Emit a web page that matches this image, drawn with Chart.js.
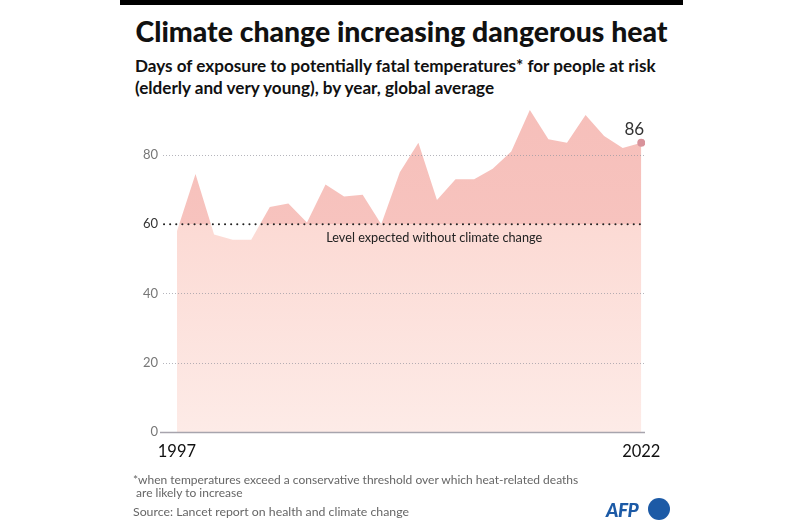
<!DOCTYPE html>
<html>
<head>
<meta charset="utf-8">
<script src="https://cdn.jsdelivr.net/npm/chart.js@4"></script>
<style>
    body { margin: 0; background: #fff; font-family: Lato, "Open Sans", sans-serif; }
    #wrap { position: relative; width: 800px; height: 530px; overflow: hidden; }
    #topbar { position: absolute; left: 120px; top: 0; width: 563px; height: 5px; background: #000; }
    #title { position: absolute; left: 120px; width: 563px; top: 14px; text-align: center; font-size: 28.4px; font-weight: 900; color: #111; white-space: nowrap; }
    #subtitle { position: absolute; left: 135px; top: 55px; font-size: 17.1px; font-weight: 700; color: #111; line-height: 22px; }
    #note { position: absolute; left: 133px; top: 473px; font-size: 12px; color: #666; line-height: 13px; }
    #source { position: absolute; left: 133px; top: 504px; font-size: 12.3px; color: #666; }
    #afp { position: absolute; left: 606px; top: 498px; font-size: 19px; font-weight: 900; font-style: italic; color: #1c5aa6; letter-spacing: -0.5px; }
    #afpdot { position: absolute; left: 648px; top: 498px; width: 22px; height: 22px; border-radius: 50%; background: #1c5aa6; }
    canvas { position: absolute; left: 0; top: 0; }
</style>
</head>
<body>
<div id="wrap">
    <div id="topbar"></div>
    <div id="title">Climate change increasing dangerous heat</div>
    <div id="subtitle">Days of exposure to potentially fatal temperatures* for people at risk<br>(elderly and very young), by year, global average</div>
    <canvas id="grafico" width="800" height="530"></canvas>
    <div id="note">*when temperatures exceed a conservative threshold over which heat-related deaths<br>&nbsp;are likely to increase</div>
    <div id="source">Source: Lancet report on health and climate change</div>
    <div id="afp">AFP</div>
    <div id="afpdot"></div>
</div>
<script>
// data
const years = [1997, 1998, 1999, 2000, 2001, 2002, 2003, 2004, 2005, 2006, 2007, 2008, 2009,
    2010, 2011, 2012, 2013, 2014, 2015, 2016, 2017, 2018, 2019, 2020, 2021, 2022];
const days = [58, 74.5, 57, 55.5, 55.5, 65, 66, 60.5, 71.5, 68, 68.5, 60, 75,
    83.5, 67, 73, 73, 76, 81, 93, 84.5, 83.5, 91.5, 85.5, 82, 83.5];
const yTicks = [0, 20, 40, 60, 80];
const xTicks = [1997, 2022];
const baseline = 60;
const baselineLabel = 'Level expected without climate change';
const lastLabel = '86';

const points = years.map(function (y, i) { return { x: y, y: days[i] }; });

// area colour: darker above the 60 line, fading pink below it
function areaColor(context) {
    const chart = context.chart;
    const area = chart.chartArea;
    if (!area) return '#f7c2bd';
    const y60 = chart.scales.y.getPixelForValue(baseline);
    const g = chart.ctx.createLinearGradient(0, area.top, 0, area.bottom);
    const s = (y60 - area.top) / (area.bottom - area.top);
    g.addColorStop(0, '#f6bfba');
    g.addColorStop(s, '#f7c3be');
    g.addColorStop(s, '#fcdad4');
    g.addColorStop(1, '#fdebe7');
    return g;
}

const linesPlugin = {
    id: 'linhas',
    afterDatasetsDraw(chart) {
        const ctx = chart.ctx;
        const area = chart.chartArea;
        const y = chart.scales.y;
        const x = chart.scales.x;
        ctx.save();
        // light dotted grid lines
        yTicks.forEach(function (t) {
            if (t === 0 || t === baseline) return;
            const py = Math.round(y.getPixelForValue(t)) + 0.5;
            ctx.strokeStyle = 'rgba(150,150,160,0.7)';
            ctx.lineWidth = 1;
            ctx.setLineDash([1, 2]);
            ctx.beginPath();
            ctx.moveTo(area.left, py);
            ctx.lineTo(area.right, py);
            ctx.stroke();
        });
        // zero line
        const p0 = Math.round(y.getPixelForValue(0)) + 0.5;
        ctx.setLineDash([]);
        ctx.strokeStyle = '#a7a4ad';
        ctx.lineWidth = 1.5;
        ctx.beginPath();
        ctx.moveTo(area.left - 3, p0);
        ctx.lineTo(area.right, p0);
        ctx.stroke();
        // baseline at 60
        const p60 = y.getPixelForValue(baseline);
        ctx.strokeStyle = '#222';
        ctx.lineWidth = 2;
        ctx.lineCap = 'round';
        ctx.setLineDash([0.1, 6]);
        ctx.beginPath();
        ctx.moveTo(area.left + 1, p60);
        ctx.lineTo(area.right, p60);
        ctx.stroke();
        ctx.setLineDash([]);
        ctx.fillStyle = '#222';
        ctx.font = '12.7px Lato, sans-serif';
        ctx.textAlign = 'center';
        ctx.textBaseline = 'middle';
        ctx.fillText(baselineLabel, x.getPixelForValue(2010.85), p60 + 14);
        // last value label
        const last = points[points.length - 1];
        ctx.fillStyle = '#333';
        ctx.font = '17px Lato, sans-serif';
        ctx.fillText(lastLabel, x.getPixelForValue(last.x) - 7, y.getPixelForValue(last.y) - 13);
        ctx.restore();
    }
};

const ctx = document.getElementById('grafico').getContext('2d');
new Chart(ctx, {
    type: 'line',
    data: {
        datasets: [{
            data: points,
            fill: 'origin',
            backgroundColor: areaColor,
            borderWidth: 0,
            borderColor: 'rgba(0,0,0,0)',
            tension: 0,
            pointRadius: function (c) { return c.dataIndex === points.length - 1 ? 4 : 0; },
            pointBackgroundColor: '#d8939b',
            pointBorderWidth: 0
        }]
    },
    options: {
        responsive: false,
        animation: false,
        layout: { padding: { left: 123, right: 155, top: 103, bottom: 66 } },
        plugins: {
            legend: { display: false },
            tooltip: { enabled: false }
        },
        scales: {
            x: {
                type: 'linear',
                min: 1996.25,
                max: 2022.2,
                afterBuildTicks: function (s) { s.ticks = xTicks.map(function (v) { return { value: v }; }); },
                afterFit: function (s) { s.height = 32; },
                grid: { display: false, drawTicks: false },
                border: { display: false },
                ticks: {
                    padding: 10,
                    maxRotation: 0,
                    color: '#111',
                    font: { family: 'Lato', size: 16.5 },
                    callback: function (v) { return String(v); }
                }
            },
            y: {
                min: 0,
                max: 95,
                afterBuildTicks: function (s) { s.ticks = yTicks.map(function (v) { return { value: v }; }); },
                afterFit: function (s) { s.width = 40; },
                grid: { display: false, drawTicks: false },
                border: { display: false },
                ticks: {
                    padding: 5,
                    color: function (c) { return c.tick && c.tick.value === baseline ? '#333' : '#777'; },
                    font: { family: 'Lato', size: 13 }
                }
            }
        }
    },
    plugins: [linesPlugin]
});
</script>
</body>
</html>
